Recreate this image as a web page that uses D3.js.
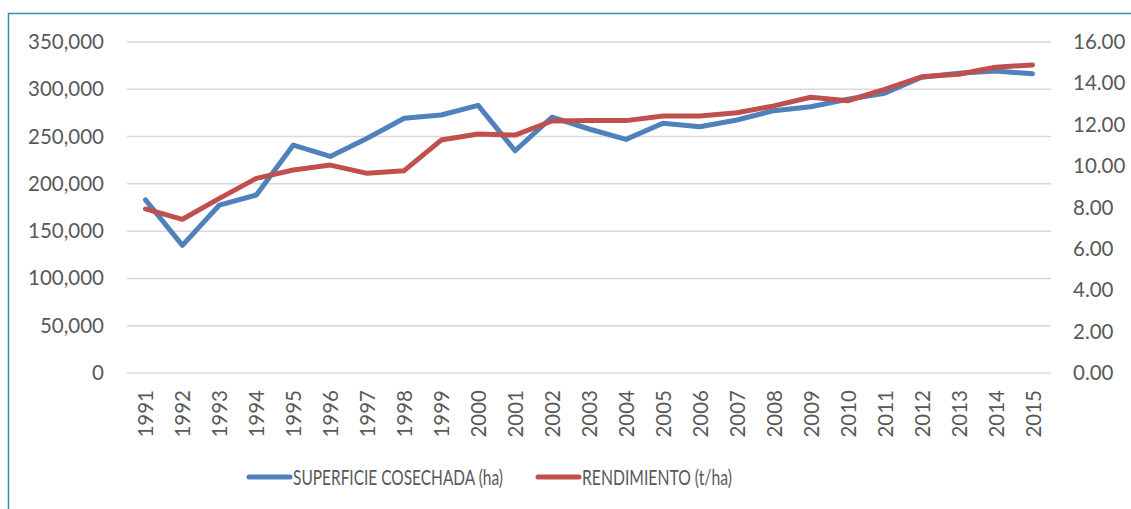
<!DOCTYPE html>
<html><head><meta charset="utf-8">
<script src="https://cdn.jsdelivr.net/npm/d3@7/dist/d3.min.js"></script>
<style>
body{margin:0;background:#fff;}
svg{display:block;font-family:Lato,"Open Sans",sans-serif;}
</style></head>
<body>
<svg id="c" width="1131" height="509"></svg>
<script>
const years = ["1991","1992","1993","1994","1995","1996","1997","1998","1999","2000","2001","2002","2003","2004","2005","2006","2007","2008","2009","2010","2011","2012","2013","2014","2015"];
const superficie = [183000,135000,177600,188200,241000,229000,248200,269300,272800,283000,235000,270500,258000,247000,264000,260400,267500,277400,281600,289400,295800,312700,316900,319300,316500];
const rendimiento = [7.93,7.43,8.44,9.41,9.81,10.05,9.65,9.78,11.26,11.55,11.50,12.18,12.20,12.20,12.42,12.42,12.58,12.91,13.33,13.16,13.71,14.32,14.44,14.78,14.89];
const leftTicks = [0,50000,100000,150000,200000,250000,300000,350000];
const rightTicks = [0,2,4,6,8,10,12,14,16];
const seriesNames = ["SUPERFICIE COSECHADA (ha)","RENDIMIENTO (t/ha)"];
const colors = ["#4F81BD","#C0504D"];

const svg = d3.select("#c");
const L = 127, R = 1051, T = 42, B = 373;
const x = d3.scalePoint().domain(years).range([L,R]).padding(0.5);
const yL = d3.scaleLinear().domain([0,350000]).range([B,T]);
const yR = d3.scaleLinear().domain([0,16]).range([B,T]);
const textColor = "#595959";

// border
svg.append("path").attr("d","M8.5,509 V13.5 H1131").attr("fill","none")
  .attr("stroke","#3d8ea6").attr("stroke-width",1.5);

// gridlines
svg.append("g").selectAll("line").data(leftTicks).join("line")
  .attr("x1",L).attr("x2",R).attr("y1",d=>yL(d)).attr("y2",d=>yL(d))
  .attr("stroke","#d9d9d9").attr("stroke-width",1.5);

// left axis
const gl = svg.append("g").attr("transform",`translate(${L},0)`)
  .call(d3.axisLeft(yL).tickValues(leftTicks).tickSize(0).tickPadding(23).tickFormat(d3.format(",")));
gl.select(".domain").remove();
gl.selectAll("text").attr("fill",textColor).style("font-size","20.5px").style("font-family","Lato");

// right axis
const gr = svg.append("g").attr("transform",`translate(${R},0)`)
  .call(d3.axisRight(yR).tickValues(rightTicks).tickSize(0).tickPadding(22).tickFormat(d3.format(".2f")));
gr.select(".domain").remove();
gr.selectAll("text").attr("fill",textColor).style("font-size","20.5px").style("font-family","Lato");

// x labels
svg.append("g").selectAll("text").data(years).join("text")
  .attr("transform",d=>`translate(${x(d)},390) rotate(-90)`)
  .attr("text-anchor","end").attr("dominant-baseline","central")
  .attr("fill",textColor).style("font-size","20.5px").text(d=>d);

// lines
const lineL = d3.line().x((d,i)=>x(years[i])).y(d=>yL(d));
const lineR = d3.line().x((d,i)=>x(years[i])).y(d=>yR(d));
svg.append("path").datum(superficie).attr("d",lineL).attr("fill","none")
  .attr("stroke",colors[0]).attr("stroke-width",5).attr("stroke-linejoin","round").attr("stroke-linecap","round");
svg.append("path").datum(rendimiento).attr("d",lineR).attr("fill","none")
  .attr("stroke",colors[1]).attr("stroke-width",5).attr("stroke-linejoin","round").attr("stroke-linecap","round");

// legend
const legX = [249, 538];
const legW = [210, 150];
const legY = 477;
seriesNames.forEach((n,i)=>{
  svg.append("line").attr("x1",legX[i]).attr("x2",legX[i]+41).attr("y1",legY).attr("y2",legY)
    .attr("stroke",colors[i]).attr("stroke-width",5).attr("stroke-linecap","round");
  svg.append("text").attr("x",legX[i]+44).attr("y",legY).attr("dominant-baseline","central")
    .attr("textLength",legW[i]).attr("lengthAdjust","spacingAndGlyphs")
    .attr("fill",textColor).style("font-size","20.5px").text(n);
});
</script>
</body></html>
